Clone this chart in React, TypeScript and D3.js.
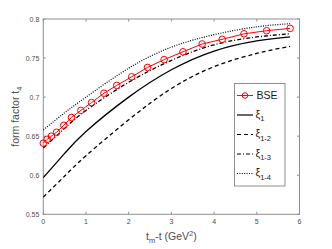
import React, { useEffect, useRef } from 'react';
import * as d3 from 'd3';

// BSE points (t_m - t in GeV^2, t4)
const bseX = [0, 0.09, 0.19, 0.31, 0.48, 0.66, 0.88, 1.13, 1.42, 1.72, 2.07, 2.44, 2.83, 3.27, 3.72, 4.19, 4.7, 5.23, 5.78];
const bseY = [0.641, 0.646, 0.650, 0.655, 0.664, 0.674, 0.683, 0.693, 0.705, 0.715, 0.726, 0.738, 0.748, 0.758, 0.768, 0.774, 0.781, 0.785, 0.788];

// fitted curves, read at these x values
const curveX = [0, 0.5, 1, 2, 3, 4, 5, 5.78];
const xi1 = [0.597, 0.628, 0.656, 0.700, 0.735, 0.759, 0.772, 0.777];
const xi12 = [0.572, 0.599, 0.625, 0.671, 0.711, 0.739, 0.756, 0.765];
const xi13 = [0.635, 0.660, 0.683, 0.719, 0.747, 0.767, 0.777, 0.781];
const xi14 = [0.658, 0.680, 0.700, 0.737, 0.764, 0.780, 0.790, 0.794];

const xTicks = [0, 1, 2, 3, 4, 5, 6];
const yTicks = [0.55, 0.6, 0.65, 0.7, 0.75, 0.8];

const seriesNames = ['1', '1-2', '1-3', '1-4'];
const dashes = [null, '4,3', '4,2,1,2', '1,1.4'];

export default function App() {
  const ref = useRef<SVGSVGElement>(null);
  const width = 332;
  const height = 249;
  const margin = { top: 19, right: 32.5, bottom: 34.7, left: 43.3 };

  useEffect(() => {
    const svg = d3.select(ref.current);
    svg.selectAll('*').remove();
    const font = '"Liberation Sans", Arial, sans-serif';

    const x = d3.scaleLinear().domain([0, 6]).range([margin.left, width - margin.right]);
    const y = d3.scaleLinear().domain([0.55, 0.8]).range([height - margin.bottom, margin.top]);

    const axisColor = '#8f8f8f';
    const textColor = '#4d4d4d';

    // box
    svg.append('rect')
      .attr('x', x(0)).attr('y', y(0.8))
      .attr('width', x(6) - x(0)).attr('height', y(0.55) - y(0.8))
      .attr('fill', 'white').attr('stroke', axisColor).attr('stroke-width', 1);

    // ticks (inside, all four sides)
    const tl = 2.5;
    xTicks.forEach(t => {
      svg.append('line').attr('x1', x(t)).attr('x2', x(t)).attr('y1', y(0.55)).attr('y2', y(0.55) - tl).attr('stroke', axisColor);
      svg.append('line').attr('x1', x(t)).attr('x2', x(t)).attr('y1', y(0.8)).attr('y2', y(0.8) + tl).attr('stroke', axisColor);
      svg.append('text').attr('x', x(t)).attr('y', y(0.55) + 10)
        .attr('text-anchor', 'middle').attr('font-family', font).attr('font-size', 7)
        .attr('fill', textColor).text(d3.format('d')(t));
    });
    yTicks.forEach(t => {
      svg.append('line').attr('x1', x(0)).attr('x2', x(0) + tl).attr('y1', y(t)).attr('y2', y(t)).attr('stroke', axisColor);
      svg.append('line').attr('x1', x(6)).attr('x2', x(6) - tl).attr('y1', y(t)).attr('y2', y(t)).attr('stroke', axisColor);
      svg.append('text').attr('x', x(0) - 4).attr('y', y(t) + 2.5)
        .attr('text-anchor', 'end').attr('font-family', font).attr('font-size', 7)
        .attr('fill', textColor).text(String(t));
    });

    const line = d3.line<[number, number]>()
      .x(d => x(d[0])).y(d => y(d[1]))
      .curve(d3.curveNatural);

    const curves = [xi1, xi12, xi13, xi14];
    curves.forEach((vals, i) => {
      const p = svg.append('path')
        .datum(curveX.map((cx, j) => [cx, vals[j]] as [number, number]))
        .attr('d', line)
        .attr('fill', 'none').attr('stroke', '#000')
        .attr('stroke-width', i === 3 ? 1.2 : 1.3);
      if (dashes[i]) p.attr('stroke-dasharray', dashes[i]);
    });

    // BSE
    const bse = bseX.map((bx, j) => [bx, bseY[j]] as [number, number]);
    svg.append('path').datum(bse)
      .attr('d', d3.line<[number, number]>().x(d => x(d[0])).y(d => y(d[1])))
      .attr('fill', 'none').attr('stroke', '#ff0000').attr('stroke-width', 1);
    svg.selectAll('.pt').data(bse).enter().append('circle')
      .attr('cx', d => x(d[0])).attr('cy', d => y(d[1])).attr('r', 3.3)
      .attr('fill', 'none').attr('stroke', '#ff0000').attr('stroke-width', 1);

    // legend
    const lg = svg.append('g');
    lg.append('rect').attr('x', 234.5).attr('y', 83.5).attr('width', 50.5).attr('height', 102.5)
      .attr('fill', 'white').attr('stroke', axisColor);
    const rowY = (i: number) => 95.5 + i * 19.5;
    lg.append('line').attr('x1', 237).attr('x2', 253).attr('y1', rowY(0)).attr('y2', rowY(0))
      .attr('stroke', '#ff0000');
    lg.append('circle').attr('cx', 245).attr('cy', rowY(0)).attr('r', 2.8)
      .attr('fill', 'none').attr('stroke', '#ff0000');
    lg.append('text').attr('x', 256.5).attr('y', rowY(0) + 3.8)
      .attr('font-family', font).attr('font-size', 10.5).attr('fill', '#1a1a1a').text('BSE');
    seriesNames.forEach((nm, i) => {
      const ry = rowY(i + 1);
      const l = lg.append('line').attr('x1', 237).attr('x2', 253).attr('y1', ry).attr('y2', ry)
        .attr('stroke', '#000').attr('stroke-width', 1.2);
      if (dashes[i]) l.attr('stroke-dasharray', dashes[i]);
      const t = lg.append('text').attr('x', 255.5).attr('y', ry + 2.5)
        .attr('font-family', font).attr('font-size', 10.5).attr('fill', '#1a1a1a');
      t.append('tspan').text('ξ');
      t.append('tspan').attr('dy', 3.5).attr('font-size', 7.5).text(nm);
    });

    // axis labels
    const yl = svg.append('text')
      .attr('transform', `translate(19,${(y(0.55) + y(0.8)) / 2}) rotate(-90)`)
      .attr('text-anchor', 'middle').attr('font-family', font).attr('font-size', 10.5)
      .attr('fill', textColor);
    yl.append('tspan').text('form factor t');
    yl.append('tspan').attr('dy', 3).attr('font-size', 7.5).text('4');

    const xl = svg.append('text')
      .attr('x', (x(0) + x(6)) / 2).attr('y', 240)
      .attr('text-anchor', 'middle').attr('font-family', font).attr('font-size', 10.5)
      .attr('fill', textColor);
    xl.append('tspan').text('t');
    xl.append('tspan').attr('dy', 3).attr('font-size', 7.5).text('m');
    xl.append('tspan').attr('dy', -3).text('-t (GeV');
    xl.append('tspan').attr('dy', -4).attr('font-size', 7.5).text('2');
    xl.append('tspan').attr('dy', 4).text(')');
  }, []);

  return (
    <svg ref={ref} width={width} height={height}
      style={{ position: 'absolute', left: 0, top: 0, background: 'white' }} />
  );
}
